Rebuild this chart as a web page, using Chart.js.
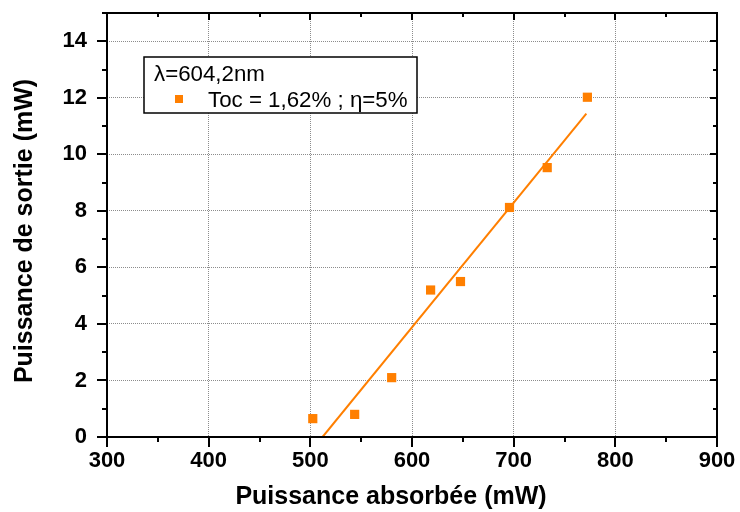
<!DOCTYPE html>
<html><head><meta charset="utf-8">
<script src="https://cdn.jsdelivr.net/npm/chart.js@4"></script>
<style>html,body{margin:0;padding:0;background:#fff}#wrap{width:740px;height:512px;position:relative}</style>
</head><body><div id="wrap"><canvas id="c" width="740" height="512"></canvas></div>
<script>
const absorbed = [502.4, 543.6, 580, 618.3, 647.7, 695.9, 733, 772.5];
const output = [0.65, 0.8, 2.1, 5.2, 5.5, 8.12, 9.53, 12.02];
const fitX = [512, 771.5];
const fitY = [0, 11.44];
const xTicksMajor = [300, 400, 500, 600, 700, 800, 900];
const yTicksMajor = [0, 2, 4, 6, 8, 10, 12, 14];
const legendLine1 = 'λ=604,2nm';
const legendLine2 = 'Toc = 1,62% ; η=5%';
const xTitle = 'Puissance absorbée (mW)';
const yTitle = 'Puissance de sortie (mW)';
const ORANGE = '#ff7f00';
const FONT = '"Liberation Sans", Arial, sans-serif';

const zeroPad = s => { s.paddingTop = 0; s.paddingBottom = 0; s.paddingLeft = 0; s.paddingRight = 0; };

const framePlugin = {
  id: 'frame',
  afterDraw(chart) {
    const {ctx, chartArea: a, scales: {x, y}} = chart;
    ctx.save();
    ctx.strokeStyle = '#000';
    ctx.lineWidth = 2;
    ctx.strokeRect(a.left, a.top, a.right - a.left, a.bottom - a.top);
    ctx.beginPath();
    for (let v = 300; v <= 900; v += 50) {
      const px = Math.round(x.getPixelForValue(v));
      const major = v % 100 === 0;
      const outL = major ? 10 : 5;
      const inL = major ? 7 : 4;
      ctx.moveTo(px, a.bottom); ctx.lineTo(px, a.bottom + outL);
      ctx.moveTo(px, a.top); ctx.lineTo(px, a.top + inL);
    }
    for (let v = 0; v <= 15; v += 1) {
      const py = Math.round(y.getPixelForValue(v));
      const major = v % 2 === 0;
      const outL = major ? 10 : 5;
      const inL = major ? 7 : 4;
      ctx.moveTo(a.left, py); ctx.lineTo(a.left - outL, py);
      ctx.moveTo(a.right, py); ctx.lineTo(a.right - inL, py);
    }
    ctx.stroke();
    // axis titles
    ctx.fillStyle = '#000';
    ctx.font = 'bold 25px ' + FONT;
    ctx.textAlign = 'center';
    ctx.textBaseline = 'middle';
    ctx.fillText(xTitle, 391, 497);
    ctx.save();
    ctx.translate(25, 231);
    ctx.rotate(-Math.PI / 2);
    ctx.fillText(yTitle, 0, 0);
    ctx.restore();
    // legend
    ctx.textAlign = 'left';
    const lx = a.left + 37, ly = a.top + 44;
    ctx.fillStyle = '#fff';
    ctx.fillRect(lx, ly, 273, 56);
    ctx.lineWidth = 1.5;
    ctx.strokeRect(lx, ly, 273, 56);
    ctx.fillStyle = '#000';
    ctx.font = '22.3px ' + FONT;
    ctx.fillText(legendLine1, lx + 10, ly + 18);
    ctx.fillText(legendLine2, lx + 64, ly + 44);
    ctx.fillStyle = ORANGE;
    ctx.fillRect(lx + 31, ly + 38, 8, 8);
    ctx.restore();
  }
};

new Chart(document.getElementById('c'), {
  type: 'scatter',
  data: {
    datasets: [
      {
        data: absorbed.map((v, i) => ({x: v, y: output[i]})),
        pointStyle: 'rect', pointRadius: 6.5, backgroundColor: ORANGE, borderColor: ORANGE, borderWidth: 0,
        showLine: false
      },
      {
        data: fitX.map((v, i) => ({x: v, y: fitY[i]})),
        showLine: true, pointRadius: 0, borderColor: ORANGE, borderWidth: 2
      }
    ]
  },
  plugins: [framePlugin],
  options: {
    responsive: false,
    animation: false,
    events: [],
    layout: {padding: {top: 13, right: 23, left: 0, bottom: 0}},
    plugins: {legend: {display: false}, tooltip: {enabled: false}},
    scales: {
      x: {
        type: 'linear', min: 300, max: 900,
        afterBuildTicks: s => { s.ticks = xTicksMajor.map(v => ({value: v})); },
        afterFit: s => { s.height = 75; zeroPad(s); },
        ticks: {color: '#000', padding: 11, font: {family: FONT, size: 22, weight: 'bold'}},
        grid: {color: '#8c8c8c', lineWidth: 1, drawTicks: false},
        border: {display: false, dash: [1, 1]},
        title: {display: false, text: xTitle}
      },
      y: {
        type: 'linear', min: 0, max: 15,
        afterBuildTicks: s => { s.ticks = yTicksMajor.map(v => ({value: v})); },
        afterFit: s => { s.width = 107; zeroPad(s); },
        ticks: {color: '#000', padding: 20, font: {family: FONT, size: 22, weight: 'bold'}},
        grid: {color: '#8c8c8c', lineWidth: 1, drawTicks: false},
        border: {display: false, dash: [1, 1]},
        title: {display: false, text: yTitle}
      }
    }
  }
});
</script></body></html>
